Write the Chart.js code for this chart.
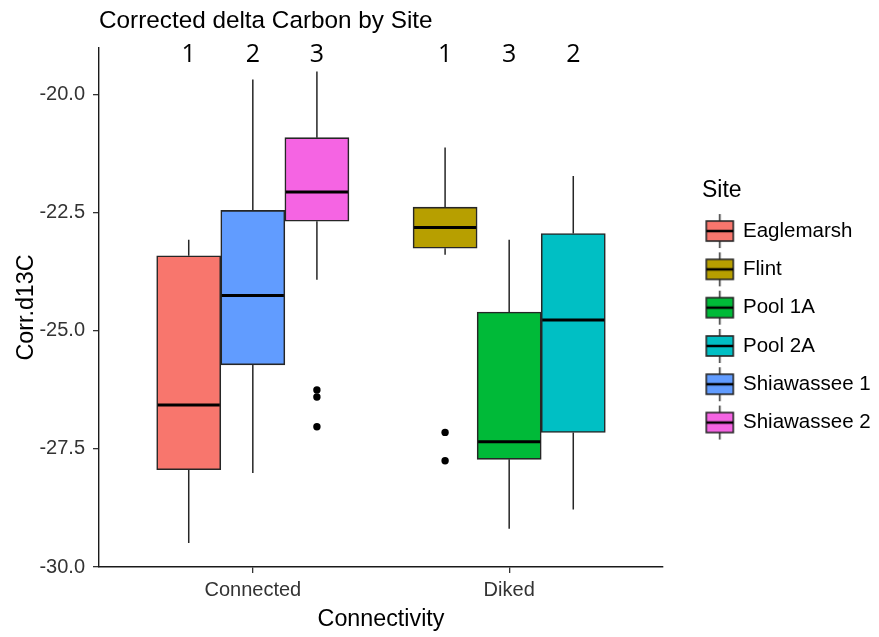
<!DOCTYPE html>
<html>
<head>
<meta charset="utf-8">
<title>Corrected delta Carbon by Site</title>
<script src="https://cdn.jsdelivr.net/npm/chart.js@4.4.1/dist/chart.umd.min.js"></script>
<style>
  html, body { margin: 0; padding: 0; background: #fff; }
  #wrap { width: 879px; height: 637px; }
</style>
</head>
<body>
<div id="wrap"><canvas id="boxChart" width="879" height="637"></canvas></div>
<script>
// box plot of corrected d13C per site, grouped by connectivity

// values
const sites = ["Eaglemarsh", "Flint", "Pool 1A", "Pool 2A", "Shiawassee 1", "Shiawassee 2"];
const siteGroup = ["Connected", "Diked", "Diked", "Diked", "Connected", "Connected"];
const connectivity = ["Connected", "Diked"];
const whiskerLow = [-29.49, -23.39, -29.19, -28.78, -28.01, -23.92];
const lowerQuartile = [-27.94, -23.25, -27.72, -27.15, -25.72, -22.68];
const medians = [-26.57, -22.81, -27.35, -24.77, -24.25, -22.06];
const upperQuartile = [-23.41, -22.38, -24.60, -22.94, -22.45, -20.91];
const whiskerHigh = [-23.07, -21.12, -23.07, -21.72, -19.68, -19.51];
const outlierSite = ["Flint", "Flint", "Shiawassee 2", "Shiawassee 2", "Shiawassee 2"];
const outlierValue = [-27.15, -27.75, -26.25, -26.40, -27.03];
const groupLetters = ["1", "1", "3", "2", "2", "3"];   // the hand added numbers over each box
const yTicks = [-30, -27.5, -25, -22.5, -20];

// ggplot default hues
const siteColors = ["#F8766D", "#B79F00", "#00BA38", "#00BFC4", "#619CFF", "#F564E3"];
const boxLine = "#262626";
const font = "'Liberation Sans', Arial, sans-serif";

// dodge: boxes in a group sit side by side, 0.25 wide each
const dodge = 0.25;
const sitePos = sites.map((s, i) => {
  const g = siteGroup[i];
  const members = sites.filter((_, j) => siteGroup[j] === g);
  const slot = members.indexOf(s);
  return connectivity.indexOf(g) + 1 + (slot - (members.length - 1) / 2) * dodge;
});

// legend keys drawn like ggplot boxplot keys
function makeKey(color) {
  const c = document.createElement("canvas");
  c.width = 60;
  c.height = 40;
  const g = c.getContext("2d");
  const cx = 23.5;
  g.strokeStyle = boxLine;
  g.lineWidth = 1.5;
  g.beginPath();
  g.moveTo(cx, 3); g.lineTo(cx, 10);
  g.moveTo(cx, 30); g.lineTo(cx, 37);
  g.stroke();
  g.fillStyle = color;
  g.fillRect(cx - 13.5, 10, 27, 20);
  g.lineWidth = 1.6;
  g.strokeRect(cx - 13.5, 10, 27, 20);
  g.strokeStyle = "#000";
  g.lineWidth = 2.5;
  g.beginPath();
  g.moveTo(cx - 13.5, 20); g.lineTo(cx + 13.5, 20);
  g.stroke();
  return c;
}
const legendKeys = siteColors.map(makeKey);

// whiskers under the boxes
const whiskerPlugin = {
  id: "whiskers",
  beforeDatasetsDraw(chart) {
    const { ctx, scales: { x, y } } = chart;
    ctx.save();
    ctx.strokeStyle = boxLine;
    ctx.lineWidth = 1.5;
    sites.forEach((s, i) => {
      const px = x.getPixelForValue(sitePos[i]);
      ctx.beginPath();
      ctx.moveTo(px, y.getPixelForValue(whiskerHigh[i]));
      ctx.lineTo(px, y.getPixelForValue(upperQuartile[i]));
      ctx.moveTo(px, y.getPixelForValue(lowerQuartile[i]));
      ctx.lineTo(px, y.getPixelForValue(whiskerLow[i]));
      ctx.stroke();
    });
    ctx.restore();
  }
};

// median lines on top, then the numbers above the boxes
const medianPlugin = {
  id: "medians",
  afterDatasetsDraw(chart) {
    const { ctx, scales: { x, y } } = chart;
    ctx.save();
    ctx.strokeStyle = "#000";
    ctx.lineWidth = 3;
    sites.forEach((s, i) => {
      const bar = chart.getDatasetMeta(i).data[0];
      const py = y.getPixelForValue(medians[i]);
      ctx.beginPath();
      ctx.moveTo(bar.x - bar.width / 2 + 1, py);
      ctx.lineTo(bar.x + bar.width / 2 - 1, py);
      ctx.stroke();
    });
    ctx.fillStyle = "#000";
    ctx.font = "25px 'Open Sans', 'Noto Sans', sans-serif";
    ctx.textAlign = "center";
    ctx.textBaseline = "alphabetic";
    sites.forEach((s, i) => {
      ctx.fillText(groupLetters[i], x.getPixelForValue(sitePos[i]), chart.chartArea.top + 14);
    });
    ctx.restore();
  }
};

const boxSets = sites.map((s, i) => ({
  type: "bar",
  label: s,
  data: [{ x: sitePos[i], y: [lowerQuartile[i], upperQuartile[i]] }],
  backgroundColor: siteColors[i],
  borderColor: boxLine,
  borderWidth: 1.6,
  borderSkipped: false,
  grouped: false,
  categoryPercentage: 1,
  barPercentage: 1,
  order: 2
}));

const outlierSet = {
  type: "scatter",
  label: "outliers",
  data: outlierValue.map((v, k) => ({ x: sitePos[sites.indexOf(outlierSite[k])], y: v })),
  pointRadius: 3.7,
  pointBackgroundColor: "#000",
  pointBorderWidth: 0,
  order: 1
};

const ctx = document.getElementById("boxChart").getContext("2d");
const chart = new Chart(ctx, {
  type: "bar",
  data: { datasets: [...boxSets, outlierSet] },
  plugins: [whiskerPlugin, medianPlugin],
  options: {
    responsive: false,
    animation: false,
    devicePixelRatio: 1,
    layout: { padding: { left: 0, right: 5, top: 0, bottom: 0 } },
    plugins: {
      tooltip: { enabled: false },
      title: {
        display: true,
        text: "Corrected delta Carbon by Site",
        align: "start",
        fullSize: false,
        color: "#000",
        font: { family: font, size: 24.3, weight: "normal" },
        padding: { top: 7, bottom: 11.8 }
      },
      legend: {
        position: "right",
        align: "start",
        maxWidth: 172,
        title: {
          display: true,
          text: "Site",
          position: "start",
          color: "#000",
          font: { family: font, size: 23, lineHeight: 1 },
          padding: { top: 179.5, bottom: 0.5 }
        },
        labels: {
          usePointStyle: true,
          pointStyleWidth: 12.95,
          padding: 17.8,
          color: "#000",
          font: { family: font, size: 20.5 },
          generateLabels: () => sites.map((s, i) => ({
            text: s,
            pointStyle: legendKeys[i],
            fillStyle: siteColors[i],
            strokeStyle: boxLine,
            lineWidth: 0,
            hidden: false,
            datasetIndex: i
          }))
        }
      }
    },
    scales: {
      x: {
        type: "linear",
        min: 0.4,
        max: 2.6,
        offset: false,
        afterBuildTicks: s => { s.ticks = connectivity.map((c, i) => ({ value: i + 1 })); },
        afterFit: s => { s.height = 70; },
        ticks: {
          callback: v => connectivity[v - 1],
          color: "#333",
          font: { family: font, size: 20 },
          padding: 5,
          maxRotation: 0
        },
        grid: { offset: false, drawOnChartArea: false, drawTicks: true, tickLength: 6, color: "#333", lineWidth: 1.3 },
        border: { display: true, color: "#1a1a1a", width: 1.4 },
        title: {
          display: true,
          text: "Connectivity",
          color: "#000",
          font: { family: font, size: 23.3 },
          padding: { top: 0, bottom: 3 }
        }
      },
      y: {
        type: "linear",
        min: -30,
        max: -19.01,
        afterBuildTicks: s => { s.ticks = yTicks.map(v => ({ value: v })); },
        afterFit: s => { s.width = 99; },
        ticks: {
          callback: v => v.toFixed(1),
          color: "#333",
          font: { family: font, size: 20 },
          padding: 8
        },
        grid: { drawOnChartArea: false, drawTicks: true, tickLength: 6, color: "#333", lineWidth: 1.3 },
        border: { display: true, color: "#1a1a1a", width: 1.4 },
        title: {
          display: true,
          text: "Corr.d13C",
          color: "#000",
          font: { family: font, size: 23.3 },
          padding: { top: 13, bottom: 0 }
        }
      },
      // empty axis that only keeps the gap between the plot and the legend
      gap: {
        type: "linear",
        position: "right",
        display: true,
        grid: { display: false },
        border: { display: false },
        ticks: { display: false },
        afterFit: s => { s.width = 39; }
      }
    }
  }
});
</script>
</body>
</html>
